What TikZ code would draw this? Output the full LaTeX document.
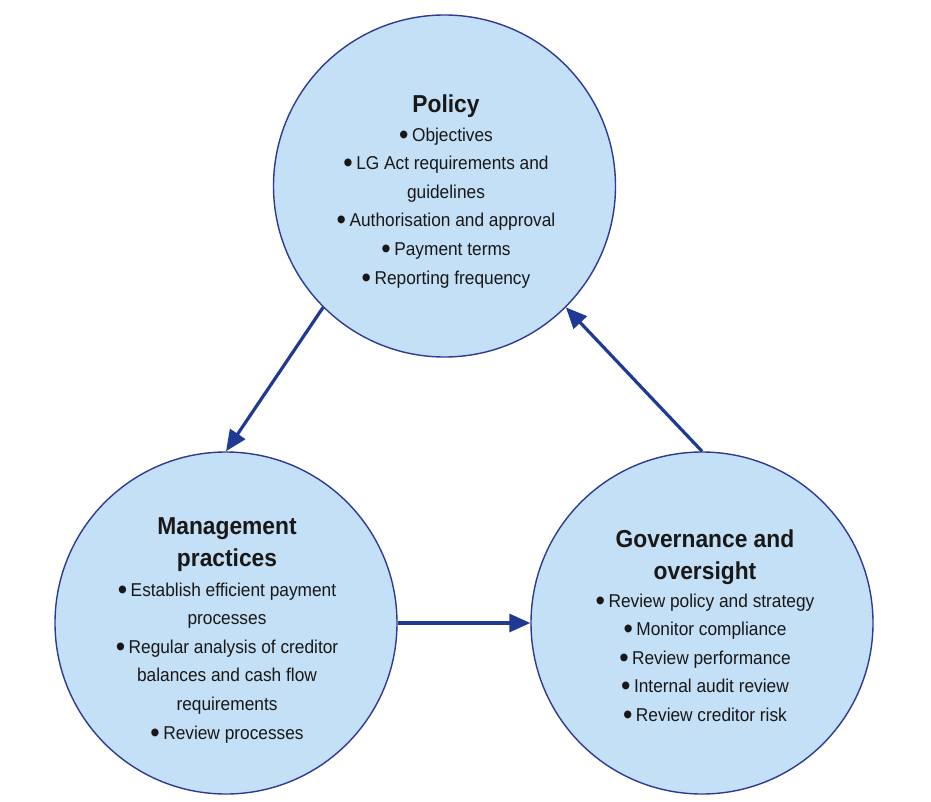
\documentclass[tikz,border=0pt]{standalone}
\usepackage{fontspec}
\setmainfont{Liberation Sans}[FakeStretch=0.93]
\usetikzlibrary{arrows.meta}
\definecolor{fillblue}{HTML}{C3E0F6}
\definecolor{edgeblue}{HTML}{2E3A94}
\definecolor{arrowblue}{HTML}{1F3A93}
\definecolor{txt}{HTML}{1A1718}
\newcommand{\bul}{\raisebox{-3pt}{\scalebox{1.55}{\textbullet}}\hspace{3.5pt}}
\tikzset{
  bubble/.style={circle, draw=edgeblue, fill=fillblue, line width=1.4pt, minimum size=342pt, inner sep=0pt},
  titletext/.style={anchor=north, align=center, inner sep=0pt, text=txt, font=\fontsize{24.5}{32}\selectfont\bfseries},
  bodytext/.style={anchor=north, align=center, inner sep=0pt, text=txt, font=\fontsize{18.6}{28.6}\selectfont},
  flow/.style={draw=arrowblue, line width=3.2pt, -{Triangle[length=21pt,width=18pt]}}
}
\begin{document}
\begin{tikzpicture}[x=1pt,y=-1pt]
\useasboundingbox (0,0) rectangle (931,802);
\node[bubble] (pol) at (444.5,186) {};
\node[bubble] (man) at (226,623) {};
\node[bubble] (gov) at (702,623) {};

\node[titletext] (poltitle) at (446,94.5) {Policy};
\node[bodytext] (polbody) at (446,127.5) {\bul Objectives\\ \bul LG Act requirements and\\ guidelines\\ \bul Authorisation and approval\\ \bul Payment terms\\ \bul Reporting frequency};

\node[titletext] (mantitle) at (227,517.5) {Management\\ practices};
\node[bodytext] (manbody) at (227,582.5) {\bul Establish efficient payment\\ processes\\ \bul Regular analysis of creditor\\ balances and cash flow\\ requirements\\ \bul Review processes};

\node[titletext] (govtitle) at (705,529.5) {Governance and\\ oversight};
\node[bodytext] (govbody) at (705,593.5) {\bul Review policy and strategy\\ \bul Monitor compliance\\ \bul Review performance\\ \bul Internal audit review\\ \bul Review creditor risk};

\draw[flow] (pol.225) -- (man.north);
\draw[flow] (man.east) -- (gov.west);
\draw[flow] (gov.north) -- (pol.315);
\end{tikzpicture}
\end{document}
